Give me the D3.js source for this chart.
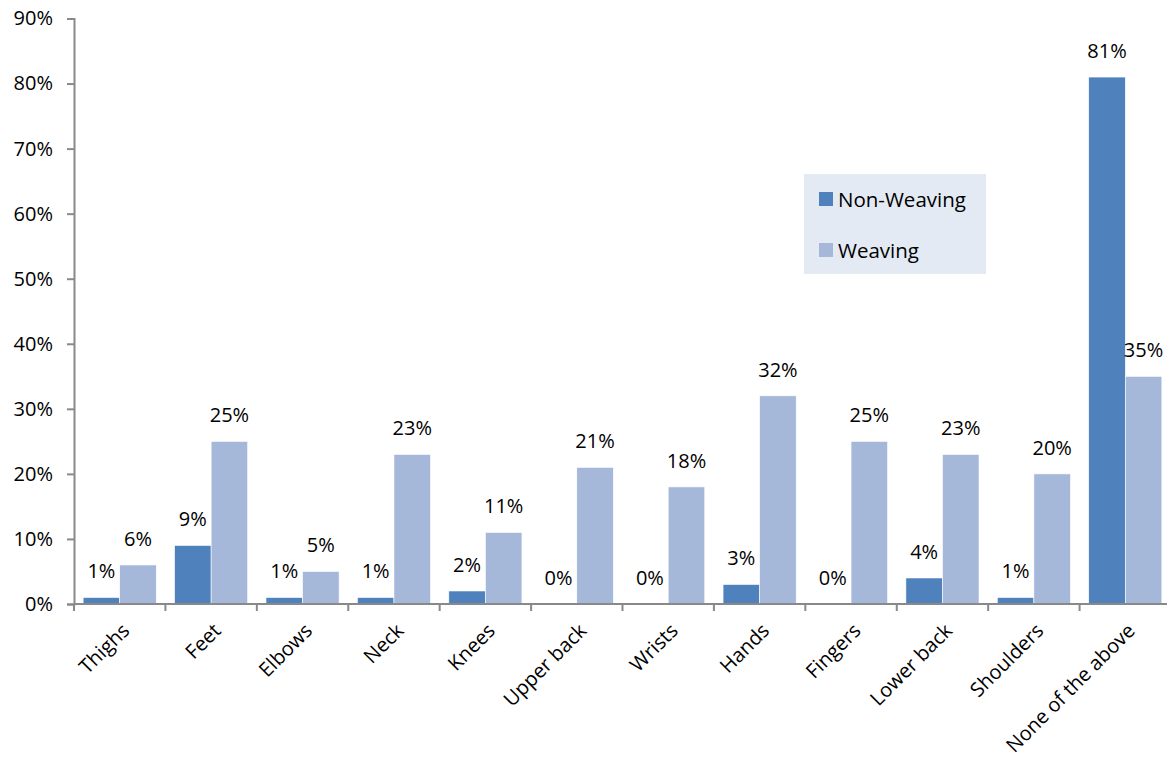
<!DOCTYPE html>
<html><head><meta charset="utf-8">
<script src="https://cdnjs.cloudflare.com/ajax/libs/d3/7.8.5/d3.min.js"></script>
<style>body{margin:0;background:#fff}svg{display:block;font-family:"Open Sans",sans-serif}</style>
</head><body><svg id="c" width="1167" height="762"></svg>
<script>
const categories = ["Thighs","Feet","Elbows","Neck","Knees","Upper back","Wrists","Hands","Fingers","Lower back","Shoulders","None of the above"];
const seriesNames = ["Non-Weaving","Weaving"];
const nonWeaving = [1,9,1,1,2,0,0,3,0,4,1,81];
const weaving = [6,25,5,23,11,21,18,32,25,23,20,35];
const yTicks = [0,10,20,30,40,50,60,70,80,90];
const colors = ["#4F81BD","#A5B8DA"];

const svg = d3.select("#c");
const x0 = d3.scaleBand().domain(categories).range([74, 1171]).paddingInner(0).paddingOuter(0);
const x1 = d3.scaleBand().domain(seriesNames).range([x0.bandwidth()*0.1, x0.bandwidth()*0.9]);
const y = d3.scaleLinear().domain([0,90]).range([604, 18.5]);

// Y axis
const yAxis = svg.append("g").attr("transform","translate(74,0)")
  .call(d3.axisLeft(y).tickValues(yTicks).tickFormat(d=>d+"%").tickSize(7).tickPadding(14));
yAxis.select(".domain").attr("stroke","#898989").attr("stroke-width",2);
yAxis.selectAll(".tick line").attr("stroke","#898989").attr("stroke-width",2);
yAxis.selectAll("text").attr("font-size","20px").attr("fill","#000").attr("font-family","Open Sans");

const data = categories.map((c,i)=>({cat:c, vals:[nonWeaving[i], weaving[i]]}));

const g = svg.append("g").selectAll("g").data(data).join("g")
  .attr("transform", d=>`translate(${x0(d.cat)},0)`);
g.selectAll("rect").data(d=>d.vals.map((v,j)=>({v, s:seriesNames[j], j}))).join("rect")
  .attr("x", d=>x1(d.s)).attr("width", x1.bandwidth())
  .attr("y", d=>y(d.v)).attr("height", d=>604 - y(d.v))
  .attr("fill", d=>colors[d.j]).attr("stroke","#fff").attr("stroke-width",0.6);
g.selectAll("text").data(d=>d.vals.map((v,j)=>({v, s:seriesNames[j], j}))).join("text")
  .attr("x", d=>x1(d.s)+x1.bandwidth()/2).attr("y", d=>y(d.v)-19)
  .attr("text-anchor","middle").attr("font-size","20px").attr("fill","#000")
  .text(d=>d.v+"%");

// X axis
const xAxis = svg.append("g").attr("transform","translate(0,604)");
xAxis.append("line").attr("x1",74).attr("x2",1171).attr("stroke","#898989").attr("stroke-width",2);
xAxis.selectAll("line.t").data(categories.map((c,i)=>i)).join("line").attr("class","t")
  .attr("x1",i=>74+i*x0.bandwidth()).attr("x2",i=>74+i*x0.bandwidth())
  .attr("y1",0).attr("y2",7).attr("stroke","#898989").attr("stroke-width",2);
xAxis.selectAll("text").data(categories).join("text")
  .attr("transform", d=>`translate(${x0(d)+x0.bandwidth()/2+6},23) rotate(-45)`)
  .attr("text-anchor","end").attr("font-size","20px").attr("fill","#000").attr("dy","0.35em")
  .text(d=>d);

// Legend
const lg = svg.append("g");
lg.append("rect").attr("x",804).attr("y",174).attr("width",182).attr("height",100).attr("fill","#E3EAF4");
seriesNames.forEach((s,i)=>{
  const yy = 192 + i*51;
  lg.append("rect").attr("x",819).attr("y",yy).attr("width",14).attr("height",14).attr("fill",colors[i]);
  lg.append("text").attr("x",838).attr("y",yy+15).attr("font-size","20.5px").attr("fill","#000").text(s);
});
</script></body></html>
